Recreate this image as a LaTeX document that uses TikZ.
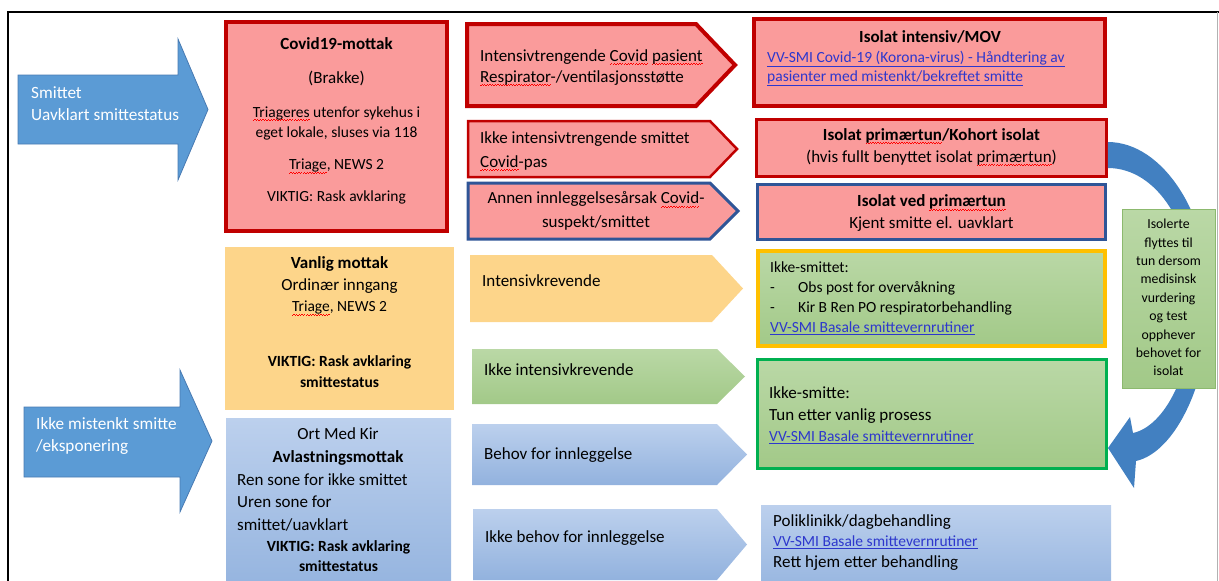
\documentclass[tikz,border=0pt]{standalone}
\usepackage{fontspec}
\setmainfont{Carlito}
\usetikzlibrary{calc}

\definecolor{redfill}{RGB}{250,155,155}
\definecolor{darkred}{RGB}{192,0,0}
\definecolor{edgeblue}{RGB}{47,85,151}
\definecolor{arrowblue}{RGB}{91,155,213}
\definecolor{arrowline}{RGB}{72,122,178}
\definecolor{curveblue}{RGB}{66,128,193}
\definecolor{lightbluetop}{RGB}{188,208,237}
\definecolor{lightbluebot}{RGB}{146,178,222}
\definecolor{greentop}{RGB}{186,216,166}
\definecolor{greenbot}{RGB}{162,201,136}
\definecolor{orangefill}{RGB}{253,213,138}
\definecolor{yellowedge}{RGB}{255,192,0}
\definecolor{greenedge}{RGB}{0,176,80}
\definecolor{sideedge}{RGB}{140,185,110}
\definecolor{linkblue}{RGB}{45,55,205}

\newcommand\smallfont{\fontsize{15.5}{20}\selectfont}
\newsavebox\spellbox
\newcommand\spellerr[1]{\sbox\spellbox{#1}\rlap{\textcolor{red}{\xleaders\hbox{\rule[-3.8pt]{1.3pt}{0.7pt}\rule[-2.8pt]{1.3pt}{0.7pt}}\hskip\wd\spellbox}}#1}
\newcommand\vvlink[1]{{\smallfont\textcolor{linkblue}{\underline{#1}}}}
\newcommand\pentarrow[6]{\path[#1] (#2,#3) -- (#4,#3) -- (#5,{(#3+#6)/2}) -- (#4,#6) -- (#2,#6) -- cycle;}

\begin{document}
\begin{tikzpicture}[x=1pt,y=-1pt,
    txt/.style={font=\fontsize{17}{21}\selectfont, inner sep=0pt},
    small/.style={font=\smallfont, inner sep=0pt},
    bigtxt/.style={font=\fontsize{17.2}{21}\selectfont, inner sep=0pt, text=white, align=left, anchor=west},
    sidetxt/.style={font=\fontsize{13.8}{18.4}\selectfont, inner sep=0pt, align=center},
    redthick/.style={draw=darkred, line width=4pt, fill=redfill},
    redthin/.style={draw=darkred, line width=2.5pt, fill=redfill},
    bluethin/.style={draw=edgeblue, line width=3pt, fill=redfill},
    orangearr/.style={fill=orangefill},
    greenarr/.style={top color=greentop, bottom color=greenbot},
    bluearr/.style={top color=lightbluetop, bottom color=lightbluebot},
    bigarrow/.style={fill=arrowblue, draw=arrowline, line width=0.8pt},
    box/.style={rectangle, inner sep=0pt}]

  \useasboundingbox (0,0) rectangle (1219,581);
  \clip (0,0) rectangle (1219,581);

  \draw[line width=1.5pt] (8,600) -- (8,12) -- (1219,12);
  \draw[black!30, line width=0.6pt] (1217,12) -- (1217,600);

  \path[bigarrow] (18,75) -- (178,75) -- (178,39) -- (208,109.5) -- (178,180) -- (178,144) -- (18,144) -- cycle;
  \path[bigarrow] (24,407) -- (180,407) -- (180,370) -- (212,441) -- (180,512) -- (180,477) -- (24,477) -- cycle;
  \node[bigtxt] (smittet) at (31,104) {Smittet\\[1pt]Uavklart smittestatus};
  \node[bigtxt] (ikkemistenkt) at (36,436) {Ikke mistenkt smitte\\[1pt]/eksponering};

  \begin{scope}[every node/.style={box}]
    \node[redthick, minimum width=221, minimum height=209] (covid) at (336.5,126.5) {};
    \node[fill=orangefill, minimum width=229, minimum height=163] (vanlig) at (339.5,328.5) {};
    \node[bluearr, minimum width=225, minimum height=182] (ortmed) at (338.5,509) {};
  \end{scope}

  \begin{scope}[every node/.style={small, align=center}]
    \node (covidtxt) at (336.5,121) {{\fontsize{17}{20}\selectfont\bfseries Covid19-mottak}\\[14pt]{\fontsize{17}{20}\selectfont(Brakke)}\\[13.5pt]\spellerr{Triageres} utenfor sykehus i\\eget lokale, sluses via 118\\[12.5pt]\spellerr{Triage}, NEWS 2\\[11.5pt]VIKTIG: Rask avklaring};
    \node[txt] (vanligtxt) at (339.5,275) {\textbf{Vanlig mottak}\\[1pt]Ordinær inngang};
    \node (triagetxt) at (339.5,308) {\spellerr{Triage}, NEWS 2};
    \node (vanligviktig) at (339.5,371.5) {\textbf{VIKTIG: Rask avklaring}\\[1pt]\textbf{smittestatus}};
    \node[txt] (ortmedtxt) at (338,446.5) {Ort Med Kir\\[2pt]\textbf{Avlastningsmottak}};
    \node[txt, align=left, anchor=west] (sonetxt) at (237,502.5) {Ren sone for ikke smittet\\[1pt]Uren sone for\\[2pt]smittet/uavklart};
    \node (ortviktig) at (338.5,556) {\textbf{VIKTIG: Rask avklaring}\\\textbf{smittestatus}};
  \end{scope}

  \pentarrow{redthick}{467}{24}{696}{735}{106}
  \pentarrow{redthin}{468}{121}{710}{737}{177}
  \pentarrow{bluethin}{468}{183}{710}{738}{239}
  \pentarrow{orangearr}{470}{255}{712}{743}{322}
  \pentarrow{greenarr}{472}{349}{717}{745}{404}
  \pentarrow{bluearr}{472}{424}{717}{747}{485}
  \pentarrow{bluearr}{473}{509}{717}{747}{580}

  \begin{scope}[every node/.style={txt, align=left, anchor=west}]
    \node (intensivtr) at (480,67.5) {Intensivtrengende \spellerr{Covid} \spellerr{pasient}\\\spellerr{Respirator}-/ventilasjonsstøtte};
    \node (ikkeintenstr) at (480,151) {Ikke intensivtrengende smittet\\[3pt]\spellerr{Covid}-pas};
    \node[align=center, anchor=center] (annen) at (596,211) {Annen innleggelsesårsak \spellerr{Covid}-\\[3pt]suspekt/smittet};
    \node (intensivkr) at (482,281) {Intensivkrevende};
    \node (ikkeintenskr) at (484,370) {Ikke intensivkrevende};
    \node (behov) at (484,455) {Behov for innleggelse};
    \node (ikkebehov) at (485,538) {Ikke behov for innleggelse};
  \end{scope}

  \begin{scope}[every node/.style={box}]
    \node[redthick, minimum width=351, minimum height=87] (isointensiv) at (929.5,62.5) {};
    \node[redthin, minimum width=350, minimum height=57] (kohort) at (931.5,148) {};
    \node[bluethin, minimum width=348, minimum height=55] (vedtun) at (931.5,212) {};
  \end{scope}

  % curved arrow from kohort down to ikke-smitte
  \coordinate (curvetip) at (1108,448);
  \path[fill=curveblue] ([yshift=6pt]kohort.east) .. controls (1163,142) and (1210,215) .. (1210,300)
    .. controls (1210,380) and (1176,452) .. (1136,461) -- (1134,488) -- (curvetip) -- (1130,417) -- (1133,433)
    .. controls (1165,426) and (1193,372) .. (1194,300) .. controls (1194,228) and (1158,168) .. ([yshift=-20pt]kohort.east) -- cycle;

  \begin{scope}[every node/.style={box}]
    \node[greenarr, draw=yellowedge, line width=3.5pt, minimum width=347, minimum height=95] (ikkesmittet) at (931.5,298.5) {};
    \node[greenarr, draw=greenedge, line width=2.5pt, minimum width=349, minimum height=109] (ikkesmitte) at (932,414) {};
    \node[bluearr, minimum width=350, minimum height=95] (poli) at (936,552.5) {};
    \node[greenarr, draw=sideedge, line width=0.6pt, minimum width=93, minimum height=179] (isolerte) at (1168.5,298.5) {};
  \end{scope}

  \begin{scope}[every node/.style={txt, align=left, anchor=west}]
    \node[align=center, anchor=center] (isointtitle) at (930,37) {\textbf{Isolat intensiv/MOV}};
    \node[small] (isointlink) at (767,68.5) {\vvlink{VV-SMI Covid-19 (Korona-virus) - Håndtering av}\\[-1pt]\vvlink{pasienter med mistenkt/bekreftet smitte}};
    \node[align=center, anchor=center] (kohorttxt) at (931.5,147) {\textbf{Isolat \spellerr{primærtun}/Kohort isolat}\\[1pt](hvis fullt benyttet isolat \spellerr{primærtun})};
    \node[align=center, anchor=center] (vedtuntxt) at (931.5,213) {\textbf{Isolat ved \spellerr{primærtun}}\\[1pt]Kjent smitte el. uavklart};
    \node[small] (ikkesmittettxt) at (770,298.5) {Ikke-smittet:\\\makebox[28pt][l]{-}Obs post for overvåkning\\\makebox[28pt][l]{-}Kir B Ren PO respiratorbehandling\\\vvlink{VV-SMI Basale smittevernrutiner}};
    \node (ikkesmittetxt) at (769,415.5) {Ikke-smitte:\\[1pt]Tun etter vanlig prosess\\\vvlink{VV-SMI Basale smittevernrutiner}};
    \node (politxt) at (773,542.5) {Poliklinikk/dagbehandling\\[-1pt]\vvlink{VV-SMI Basale smittevernrutiner}\\Rett hjem etter behandling};
  \end{scope}

  \node[sidetxt] (isolertetxt) at (1168.5,297.5) {Isolerte\\flyttes til\\tun dersom\\medisinsk\\vurdering\\og test\\opphever\\behovet for\\isolat};

\end{tikzpicture}
\end{document}
